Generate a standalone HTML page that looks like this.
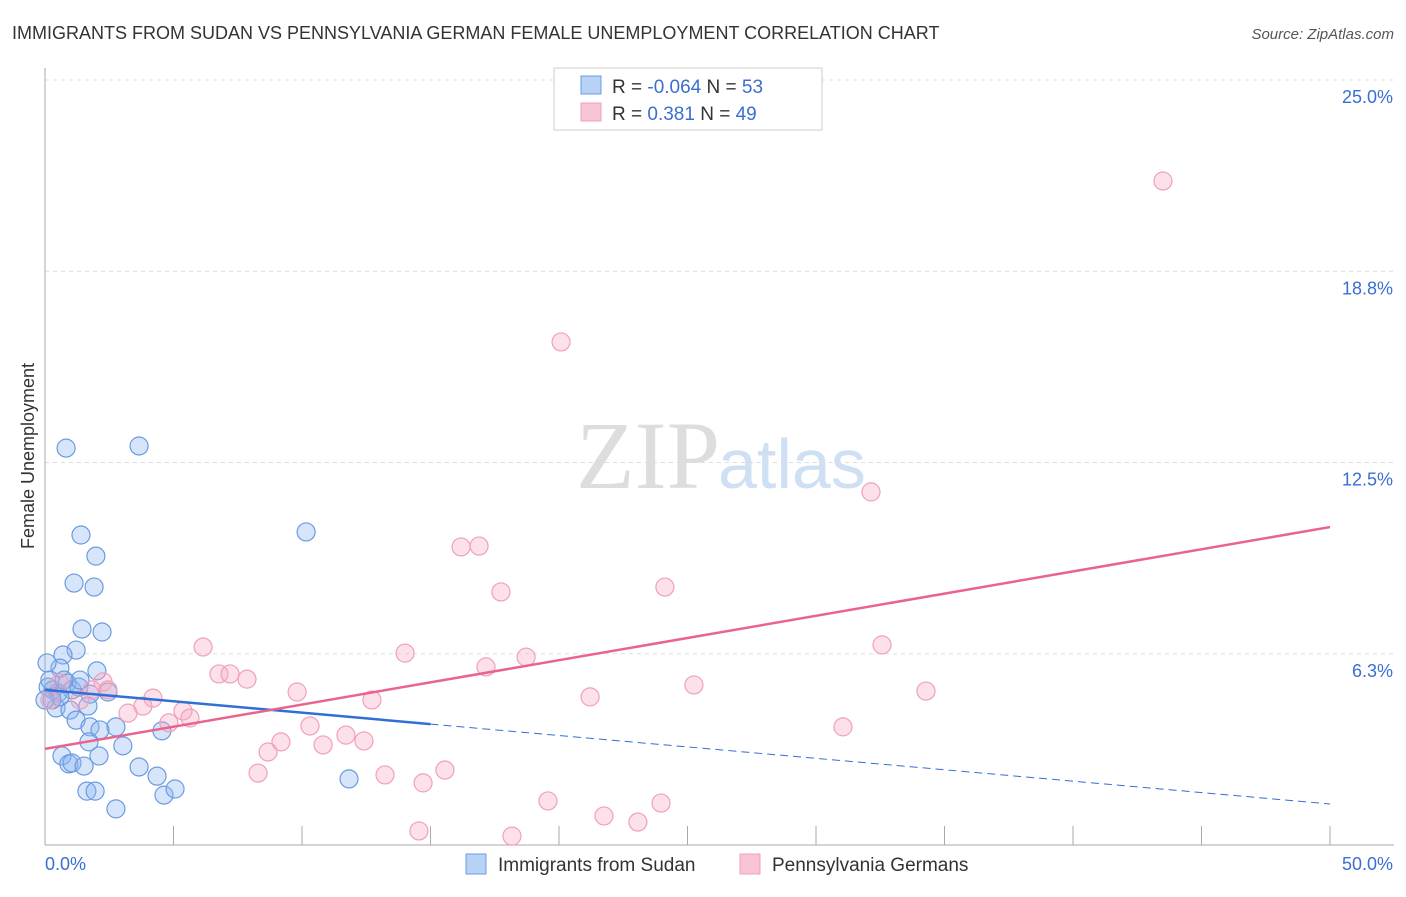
<!DOCTYPE html>
<html><head><meta charset="utf-8"><style>
body{margin:0;background:#fff;font-family:"Liberation Sans",sans-serif}
</style></head><body>
<svg id="c" width="1406" height="892" xmlns="http://www.w3.org/2000/svg" style="font-family:'Liberation Sans',sans-serif">
<text x="12" y="39" font-size="18" fill="#333">IMMIGRANTS FROM SUDAN VS PENNSYLVANIA GERMAN FEMALE UNEMPLOYMENT CORRELATION CHART</text>
<text x="1394" y="39" font-size="15" fill="#555" font-style="italic" text-anchor="end">Source: ZipAtlas.com</text>
<text x="720" y="488" font-size="96" fill="#ddd" text-anchor="end" font-family="Liberation Serif,serif">ZIP</text>
<text x="718" y="488" font-size="70" fill="#cfe0f5">atlas</text>
<g id="grid"></g><g id="axes"></g><g id="pts"></g><g id="lines"></g>
<text transform="translate(34,456) rotate(-90)" font-size="18" fill="#333" text-anchor="middle">Female Unemployment</text>
<g>
<rect x="554" y="68" width="268" height="62" fill="#fff" stroke="#ccc"/>
<rect x="581" y="76" width="20" height="18" fill="#b8d2f5" stroke="#6a9be0"/>
<rect x="581" y="103" width="20" height="18" fill="#f9c4d4" stroke="#f0a0b8"/>
<text x="612" y="93" font-size="19" fill="#333">R = <tspan fill="#3a6fd1">-0.064</tspan>   N = <tspan fill="#3a6fd1">53</tspan></text>
<text x="612" y="120" font-size="19" fill="#333">R =    <tspan fill="#3a6fd1">0.381</tspan>   N = <tspan fill="#3a6fd1">49</tspan></text>
</g>
<g>
<rect x="466" y="854" width="20" height="20" fill="#b8d2f5" stroke="#6a9be0"/>
<text x="498" y="871" font-size="19" fill="#333">Immigrants from Sudan</text>
<rect x="740" y="854" width="20" height="20" fill="#f9c4d4" stroke="#f0a0b8"/>
<text x="772" y="871" font-size="19" fill="#333">Pennsylvania Germans</text>
</g>
</svg>
<script>
const yTicks=[25,18.75,12.5,6.25];
const yTickLabels=["25.0%","18.8%","12.5%","6.3%"];
const xTickLabels=["0.0%","50.0%"];
const blueX=[0.82,3.66,1.40,1.98,1.13,1.91,1.44,2.22,10.16,1.21,0.70,0.58,2.02,0.08,0.12,0.31,0.51,0.86,1.05,1.32,1.75,1.67,1.36,0.43,0.97,1.21,1.75,2.14,2.76,1.71,3.03,4.55,0.66,0.93,1.05,1.52,2.10,3.66,4.36,1.63,1.95,4.63,5.06,2.76,11.83,0.27,0.58,0,0.19,0.74,2.45];
const blueY=[12.97,13.04,10.13,9.44,8.56,8.43,7.06,6.96,10.23,6.37,6.21,5.78,5.69,5.95,5.16,5.07,4.97,5.29,5.07,5.16,4.93,4.54,5.39,4.48,4.41,4.08,3.86,3.76,3.86,3.37,3.24,3.73,2.91,2.65,2.68,2.58,2.91,2.55,2.25,1.76,1.76,1.63,1.83,1.18,2.16,4.74,4.84,4.74,5.39,5.39,5.00];
const pinkX=[43.50,20.08,32.14,16.19,16.89,17.74,24.12,32.57,6.15,14.01,17.16,18.72,6.77,7.20,7.86,25.25,34.28,9.81,21.21,12.72,4.20,3.81,3.23,5.37,5.64,4.82,10.31,31.05,11.71,12.41,9.18,10.82,8.68,8.29,13.23,15.56,14.71,19.57,23.97,21.75,23.07,14.55,18.17,2.26,1.83,0.58,2.45,0.19,1.36];
const pinkY=[21.70,16.44,11.54,9.74,9.77,8.27,8.43,6.54,6.47,6.27,5.82,6.14,5.59,5.59,5.42,5.23,5.03,5.00,4.84,4.74,4.80,4.54,4.31,4.38,4.15,3.99,3.89,3.86,3.59,3.40,3.37,3.27,3.04,2.35,2.29,2.45,2.03,1.44,1.37,0.95,0.75,0.46,0.29,5.33,5.07,5.29,5.07,4.74,4.74];
const blueTrend=[5.07,1.34]; const blueSolidEnd=15;
const pinkTrend=[3.14,10.39];
const NS="http://www.w3.org/2000/svg";
const X=v=>45+v/50*1285, Y=v=>845-v/25*765;
function mk(t,a,p){const e=document.createElementNS(NS,t);for(const k in a)e.setAttribute(k,a[k]);document.getElementById(p).appendChild(e);return e;}
yTicks.forEach((t,i)=>{
 const g=mk('line',{x1:45,x2:1394,y1:Y(t),y2:Y(t),stroke:'#ddd','stroke-dasharray':'4,4'},'grid');
 
 
 const l=mk('text',{x:1393,y:Y(t)+23,'font-size':18,fill:'#3a6fd1','text-anchor':'end'},'axes');l.textContent=yTickLabels[i];
 
 
});
const ax=mk('line',{x1:45,x2:45,y1:68,y2:845,stroke:'#aaa'},'axes');


const bx=mk('line',{x1:45,x2:1394,y1:845,y2:845,stroke:'#aaa'},'axes');


for(let i=1;i<=10;i++){const t=mk('line',{x1:X(i*5),x2:X(i*5),y1:826,y2:845,stroke:'#aaa'},'axes');
 
 }
const xl0=mk('text',{x:45,y:870,'font-size':18,fill:'#3a6fd1'},'axes');xl0.textContent=xTickLabels[0];


const xl1=mk('text',{x:1393,y:870,'font-size':18,fill:'#3a6fd1','text-anchor':'end'},'axes');xl1.textContent=xTickLabels[1];


blueX.forEach((x,i)=>{const c=mk('circle',{cx:X(x),cy:Y(blueY[i]),r:9,fill:'rgba(140,180,240,0.35)',stroke:'#6a9be0','stroke-width':1.2},'pts');
 
 });
pinkX.forEach((x,i)=>{const c=mk('circle',{cx:X(x),cy:Y(pinkY[i]),r:9,fill:'rgba(248,170,195,0.35)',stroke:'#f0a0b8','stroke-width':1.2},'pts');
 
 });
const by=x=>blueTrend[0]+(blueTrend[1]-blueTrend[0])*x/50;
const b1=mk('line',{x1:X(0),y1:Y(by(0)),x2:X(blueSolidEnd),y2:Y(by(blueSolidEnd)),stroke:'#2f6fd6','stroke-width':2.5},'lines');


const b2=mk('line',{x1:X(blueSolidEnd),y1:Y(by(blueSolidEnd)),x2:X(50),y2:Y(by(50)),stroke:'#2f6fd6','stroke-width':1,'stroke-dasharray':'8,5'},'lines');


const p1=mk('line',{x1:X(0),y1:Y(pinkTrend[0]),x2:X(50),y2:Y(pinkTrend[1]),stroke:'#e8648e','stroke-width':2.5},'lines');


</script>
</body></html>
